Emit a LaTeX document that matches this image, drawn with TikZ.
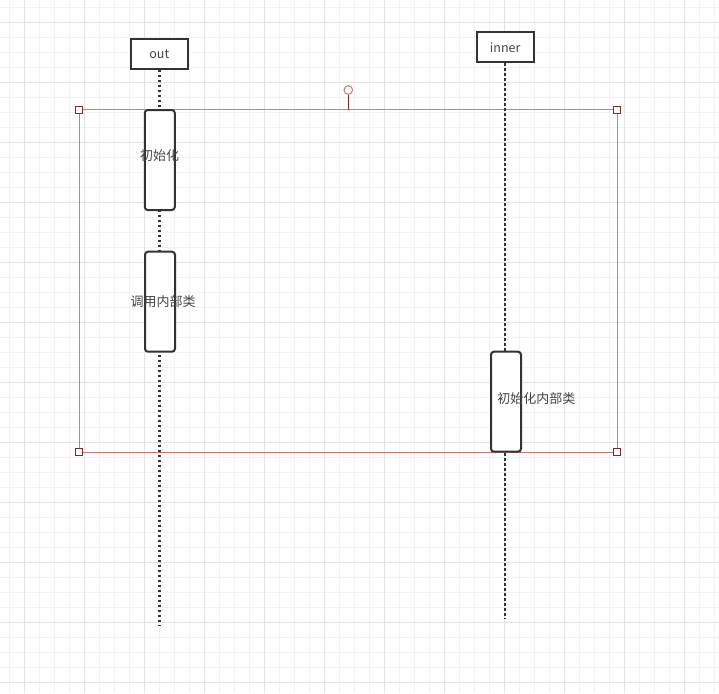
\documentclass[tikz,border=0pt]{standalone}
\usepackage{fontspec}
\setmainfont{Noto Sans CJK SC}
\usepackage{xcolor}
\usepackage{tikz}
\usetikzlibrary{positioning}
\definecolor{LineDark}{HTML}{333333}
\definecolor{TextGray}{HTML}{444444}
\definecolor{GridMinor}{HTML}{F2F2F2}
\definecolor{GridMajor}{HTML}{E2E2E2}
\definecolor{FrameGray}{HTML}{A89090}
\definecolor{FrameRed}{HTML}{C07A7A}
\definecolor{HandleRed}{HTML}{7A2A2A}

\begin{document}
\begin{tikzpicture}[
  x=1pt, y=-1pt,
  font=\fontsize{13}{15}\selectfont,
  head/.style={draw=LineDark, line width=2pt, fill=white, minimum width=57pt, minimum height=30pt, inner sep=0pt, text=TextGray, font=\fontsize{12.5}{14}\selectfont},
  act/.style={draw=LineDark, line width=2pt, fill=white, rounded corners=3pt, minimum width=30pt, minimum height=100pt, inner sep=0pt},
  actlabel/.style={text=TextGray, inner sep=0pt},
  lifeline/.style={draw=LineDark, line width=2.4pt, dash pattern=on 2.4pt off 2.6pt},
  handle/.style={draw=HandleRed, line width=1.2pt, fill=white, minimum size=7pt, inner sep=0pt},
  rothandle/.style={circle, draw=FrameRed, line width=1pt, fill=white, minimum size=8.6pt, inner sep=0pt}
]
\useasboundingbox (0,0) rectangle (719,693);
\fill[white] (0,0) rectangle (719,693);
\foreach \gx in {9.3,24.3,...,714.3} \draw[GridMinor, line width=1pt] (\gx,0) -- (\gx,693);
\foreach \gy in {7.3,22.3,...,690} \draw[GridMinor, line width=1pt] (0,\gy) -- (719,\gy);
\foreach \gx in {24.3,84.3,...,714.3} \draw[GridMajor, line width=1pt] (\gx,0) -- (\gx,693);
\foreach \gy in {22.3,82.3,...,690} \draw[GridMajor, line width=1pt] (0,\gy) -- (719,\gy);

\coordinate (tl) at (79.3,109.7);
\coordinate (tr) at (617.3,109.7);
\coordinate (bl) at (79.3,452.3);
\coordinate (br) at (617.3,452.3);
\coordinate (rotfoot) at (348.3,109.7);
\draw[FrameGray, line width=1pt] (bl) -- (tl) -- (tr) -- (br);
\draw[FrameRed, line width=1pt] (bl) -- (br);

\node[head] (out) at (159.3,53.8) {out};
\node[head] (inner) at (505.2,47.3) {inner};
\coordinate (outend) at (159.3,625.5);
\coordinate (innerend) at (505.2,618.5);
\draw[lifeline] (out.south) -- (outend);
\draw[lifeline] (inner.south) -- (innerend);

\node[act] (init) at (159.8,160) {};
\node[act] (call) at (160,301.7) {};
\node[act] (initinner) at (506,401.7) {};
\node[actlabel] (initlbl) at (159.5,155.5) {初始化};
\node[actlabel] (calllbl) at (163,301.5) {调用内部类};
\node[actlabel] (initinnerlbl) at (536.3,398.5) {初始化内部类};

\node[rothandle] (rot) at (348.3,90) {};
\draw[HandleRed, line width=1pt] (rot.south) -- (rotfoot);
\foreach \c in {tl,tr,bl,br} \node[handle] (h\c) at (\c) {};
\end{tikzpicture}
\end{document}
